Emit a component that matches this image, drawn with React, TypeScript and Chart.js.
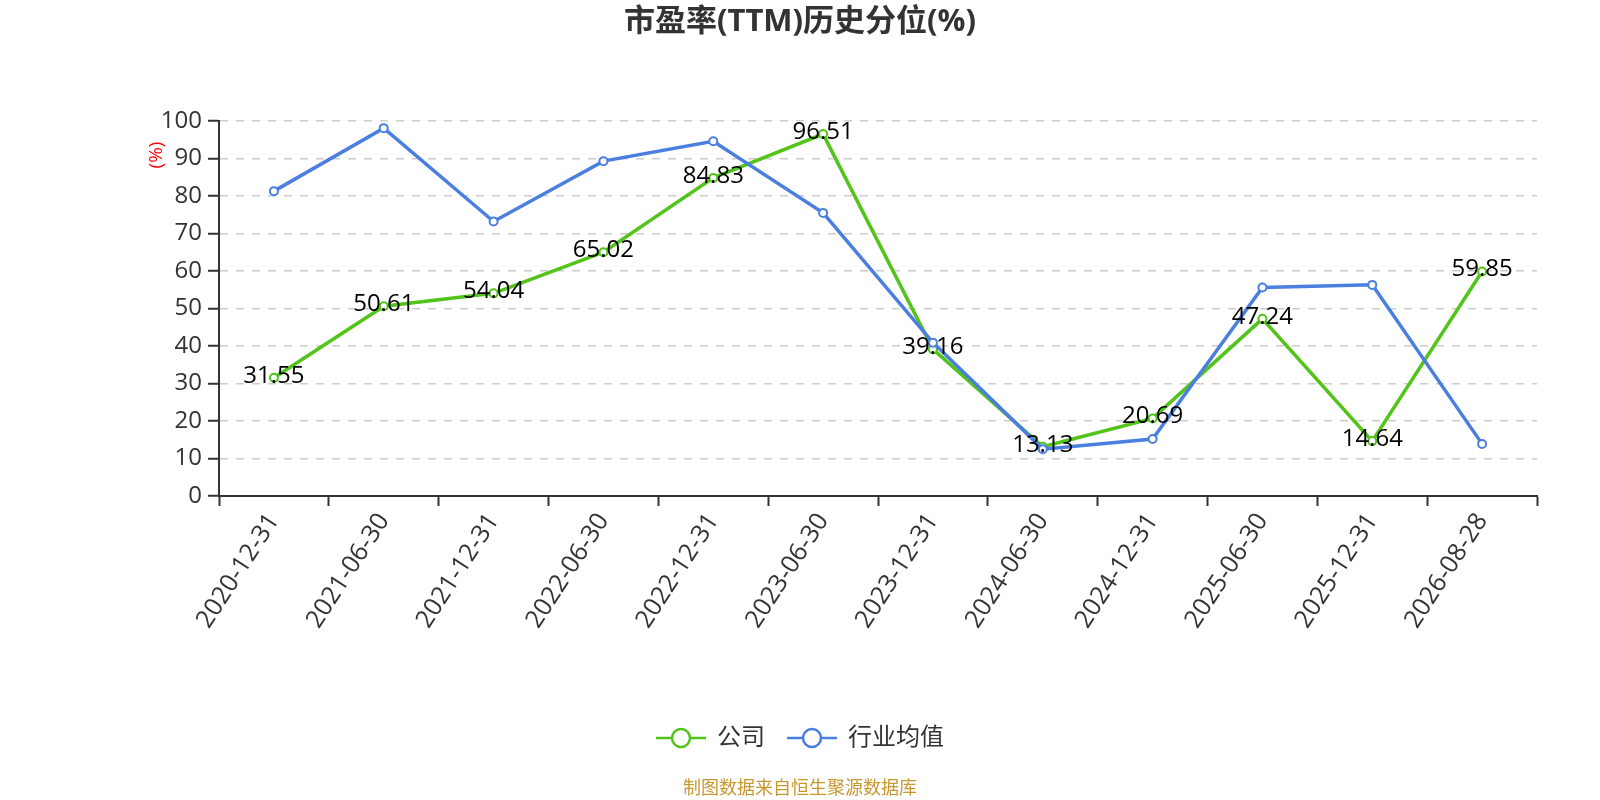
import { useEffect, useRef } from "react";
import { Chart, registerables } from "chart.js";

Chart.register(...registerables);

const dates = [
  "2020-12-31", "2021-06-30", "2021-12-31", "2022-06-30", "2022-12-31", "2023-06-30",
  "2023-12-31", "2024-06-30", "2024-12-31", "2025-06-30", "2025-12-31", "2026-08-28",
];
const companyValues = [31.55, 50.61, 54.04, 65.02, 84.83, 96.51, 39.16, 13.13, 20.69, 47.24, 14.64, 59.85];
const industryValues = [81.3, 98.1, 73.2, 89.3, 94.6, 75.5, 40.9, 12.5, 15.2, 55.6, 56.3, 13.9];
const seriesNames = ["公司", "行业均值"];

const titleText = "市盈率(TTM)历史分位(%)";
const unitText = "(%)";
const sourceText = "制图数据来自恒生聚源数据库";

const FONT = "'Open Sans', 'Noto Sans CJK SC', sans-serif";
const GREEN = "#52c41a";
const BLUE = "#4a7fe0";
const TEXT = "#333";

// title, unit label, point labels, legend and source line
const decorPlugin = {
  id: "decor",
  afterDatasetsDraw(chart: any) {
    const ctx = chart.ctx;
    const meta = chart.getDatasetMeta(0);
    ctx.save();
    ctx.font = `24px ${FONT}`;
    ctx.fillStyle = "#000";
    ctx.textAlign = "center";
    ctx.textBaseline = "middle";
    meta.data.forEach((pt: any, i: number) => {
      ctx.fillText(companyValues[i].toFixed(2), pt.x, pt.y - 2);
    });
    ctx.restore();
  },
  afterDraw(chart: any) {
    const ctx = chart.ctx;
    const w = chart.width;
    ctx.save();

    ctx.font = `bold 31px ${FONT}`;
    ctx.fillStyle = TEXT;
    ctx.textAlign = "center";
    ctx.textBaseline = "middle";
    ctx.fillText(titleText, w / 2, 22);

    ctx.save();
    ctx.translate(157, 155);
    ctx.rotate(-Math.PI / 2);
    ctx.font = `19px ${FONT}`;
    ctx.fillStyle = "#ff0000";
    ctx.fillText(unitText, 0, 0);
    ctx.restore();

    // legend
    ctx.font = `24px ${FONT}`;
    const colors = [GREEN, BLUE];
    const iconW = 50;
    const iconGap = 11;
    const itemGap = 22;
    const widths = seriesNames.map((n) => ctx.measureText(n).width);
    const total = widths.reduce((a, b) => a + b, 0) + seriesNames.length * (iconW + iconGap) + itemGap;
    let x = w / 2 - total / 2;
    const ly = 738;
    seriesNames.forEach((name, i) => {
      ctx.strokeStyle = colors[i];
      ctx.lineWidth = 2.5;
      ctx.beginPath();
      ctx.moveTo(x, ly);
      ctx.lineTo(x + iconW, ly);
      ctx.stroke();
      ctx.beginPath();
      ctx.arc(x + iconW / 2, ly, 9, 0, Math.PI * 2);
      ctx.fillStyle = "#fff";
      ctx.fill();
      ctx.stroke();
      ctx.fillStyle = TEXT;
      ctx.textAlign = "left";
      ctx.fillText(name, x + iconW + iconGap, ly);
      x += iconW + iconGap + widths[i] + itemGap;
    });

    ctx.font = `18px ${FONT}`;
    ctx.fillStyle = "#c9972f";
    ctx.textAlign = "center";
    ctx.fillText(sourceText, w / 2, 789);
    ctx.restore();
  },
};

export default function App() {
  const canvasRef = useRef<HTMLCanvasElement | null>(null);

  useEffect(() => {
    if (!canvasRef.current) return;
    const chart = new Chart(canvasRef.current, {
      type: "line",
      data: {
        labels: dates,
        datasets: [
          {
            label: seriesNames[0],
            data: companyValues,
            borderColor: GREEN,
            backgroundColor: "#fff",
            borderWidth: 3.5,
            pointRadius: 4,
            pointBorderWidth: 2,
            pointBackgroundColor: "#fff",
            pointBorderColor: GREEN,
            tension: 0,
            order: 1,
          },
          {
            label: seriesNames[1],
            data: industryValues,
            borderColor: BLUE,
            backgroundColor: "#fff",
            borderWidth: 3.5,
            pointRadius: 4,
            pointBorderWidth: 2,
            pointBackgroundColor: "#fff",
            pointBorderColor: BLUE,
            tension: 0,
            order: 0,
          },
        ],
      },
      options: {
        responsive: false,
        animation: false,
        events: [],
        layout: { padding: { left: 0, right: 63, top: 121, bottom: 0 } },
        plugins: {
          legend: { display: false },
          tooltip: { enabled: false },
          title: { display: false },
        },
        scales: {
          x: {
            type: "category",
            offset: true,
            afterFit: (s: any) => {
              s.height = 304;
            },
            grid: {
              offset: true,
              drawOnChartArea: false,
              drawTicks: true,
              tickLength: 10,
              tickColor: TEXT,
              tickWidth: 2,
            },
            border: { display: true, color: TEXT, width: 2 },
            ticks: {
              autoSkip: false,
              minRotation: 57,
              maxRotation: 57,
              padding: 2,
              color: TEXT,
              font: { family: FONT, size: 25 },
            },
          },
          y: {
            min: 0,
            max: 100,
            afterFit: (s: any) => {
              s.width = 219;
            },
            grid: {
              color: (c: any) => (c.tick && c.tick.value === 0 ? "rgba(0,0,0,0)" : "#ccc"),
              lineWidth: 1.5,
              drawTicks: true,
              tickLength: 11,
              tickColor: TEXT,
              tickWidth: 2,
            },
            border: { display: true, color: TEXT, width: 2, dash: [8, 8] },
            ticks: {
              stepSize: 10,
              padding: 6,
              color: TEXT,
              font: { family: FONT, size: 24 },
            },
          },
        },
      },
      plugins: [decorPlugin],
    });
    return () => chart.destroy();
  }, []);

  return (
    <div style={{ position: "fixed", left: 0, top: 0, width: 1600, height: 800, background: "#fff" }}>
      <canvas ref={canvasRef} width={1600} height={800} />
    </div>
  );
}
